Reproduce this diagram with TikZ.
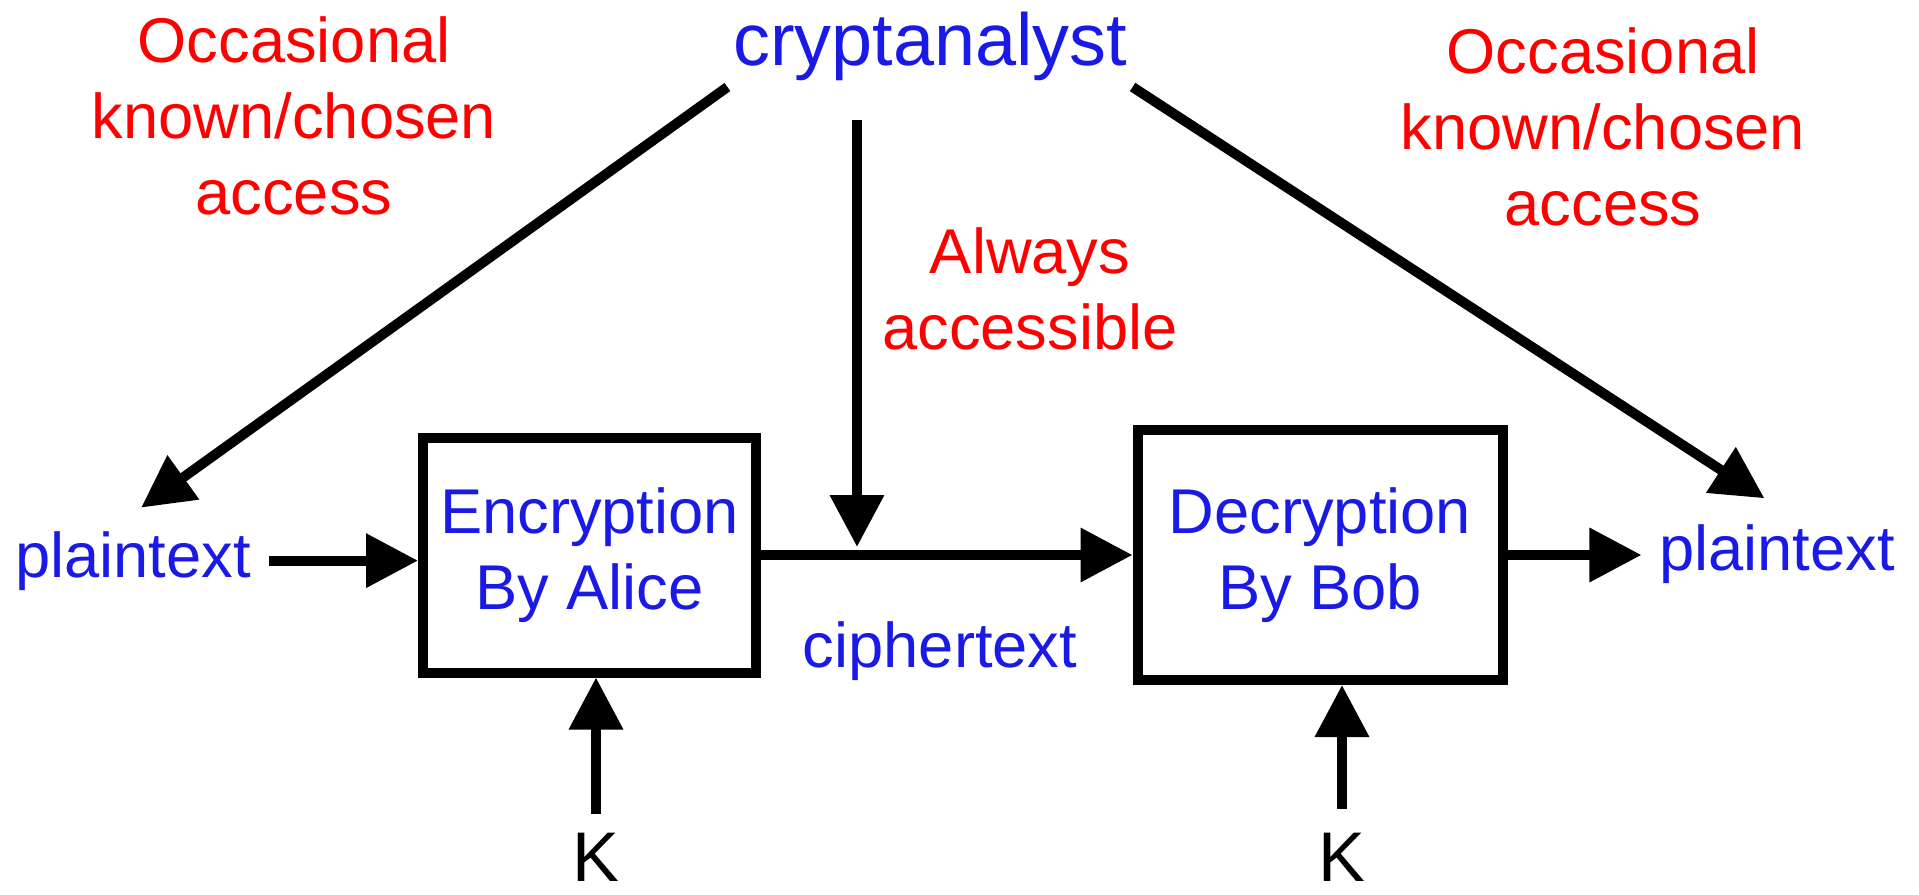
\documentclass[tikz,border=0pt]{standalone}
\usepackage{fontspec}
\setmainfont{Liberation Sans}
\usepackage{tikz}
\usetikzlibrary{arrows.meta}
\definecolor{txtblue}{RGB}{26,26,230}
\definecolor{txtred}{RGB}{255,0,0}
\tikzstyle{box} = [rectangle, draw=black, line width=0.1cm, text centered, align=center, text=txtblue, font=\fontsize{18}{21.6}\selectfont]
\tikzstyle{bluetext} = [text=txtblue, inner sep=0.17cm, font=\fontsize{18}{21.6}\selectfont]
\tikzstyle{redtext} = [text=txtred, align=center, font=\fontsize{18}{21.6}\selectfont]
\tikzstyle{keytext} = [inner sep=0pt, font=\fontsize{20}{24}\selectfont]
\tikzstyle{arrow} = [line width=0.1cm, -{Triangle[length=0.52cm, width=0.52cm]}]

\begin{document}
\begin{tikzpicture}
    \useasboundingbox (0,0) rectangle (19.19,-8.95);

    \node[bluetext, inner sep=0.05cm, font=\fontsize{21}{25}\selectfont, anchor=base] (crypt) at (9.30,-0.66) {cryptanalyst};
    \node[redtext] (occleft) at (2.94,-1.16) {Occasional\\known/chosen\\access};
    \node[redtext] (occright) at (16.03,-1.265) {Occasional\\known/chosen\\access};
    \node[redtext] (always) at (10.30,-2.89) {Always\\accessible};

    \node[box, minimum width=3.33cm, minimum height=2.35cm] (enc) at (5.895,-5.55) {Encryption\\By Alice};
    \node[box, minimum width=3.65cm, minimum height=2.50cm] (dec) at (13.20,-5.55) {Decryption\\By Bob};

    \node[bluetext, anchor=base] (ptleft) at (1.33,-5.77) {plaintext};
    \node[bluetext, anchor=base] (ptright) at (17.77,-5.70) {plaintext};
    \node[bluetext, anchor=base] (cipher) at (9.40,-6.67) {ciphertext};

    \node[keytext, anchor=base] (kalice) at (5.96,-8.81) {K};
    \node[keytext, anchor=base] (kbob) at (13.42,-8.81) {K};

    \coordinate (tap) at (8.57,-1.20);

    \draw[arrow, shorten >=0.1cm] (crypt.south west) -- (ptleft.north);
    \draw[arrow, shorten >=0.08cm] (tap) -- (tap |- enc.east);
    \draw[arrow, shorten >=0.15cm] (crypt.south east) -- (ptright.north);
    \draw[arrow] (ptleft.east) -- (ptleft.east -| enc.west);
    \draw[arrow] (enc.east) -- (dec.west);
    \draw[arrow] (dec.east) -- (dec.east -| ptright.west);
    \draw[arrow, shorten <=0.18cm] (kalice) -- (kalice |- enc.south);
    \draw[arrow, shorten <=0.23cm] (kbob) -- (kbob |- dec.south);
\end{tikzpicture}
\end{document}
